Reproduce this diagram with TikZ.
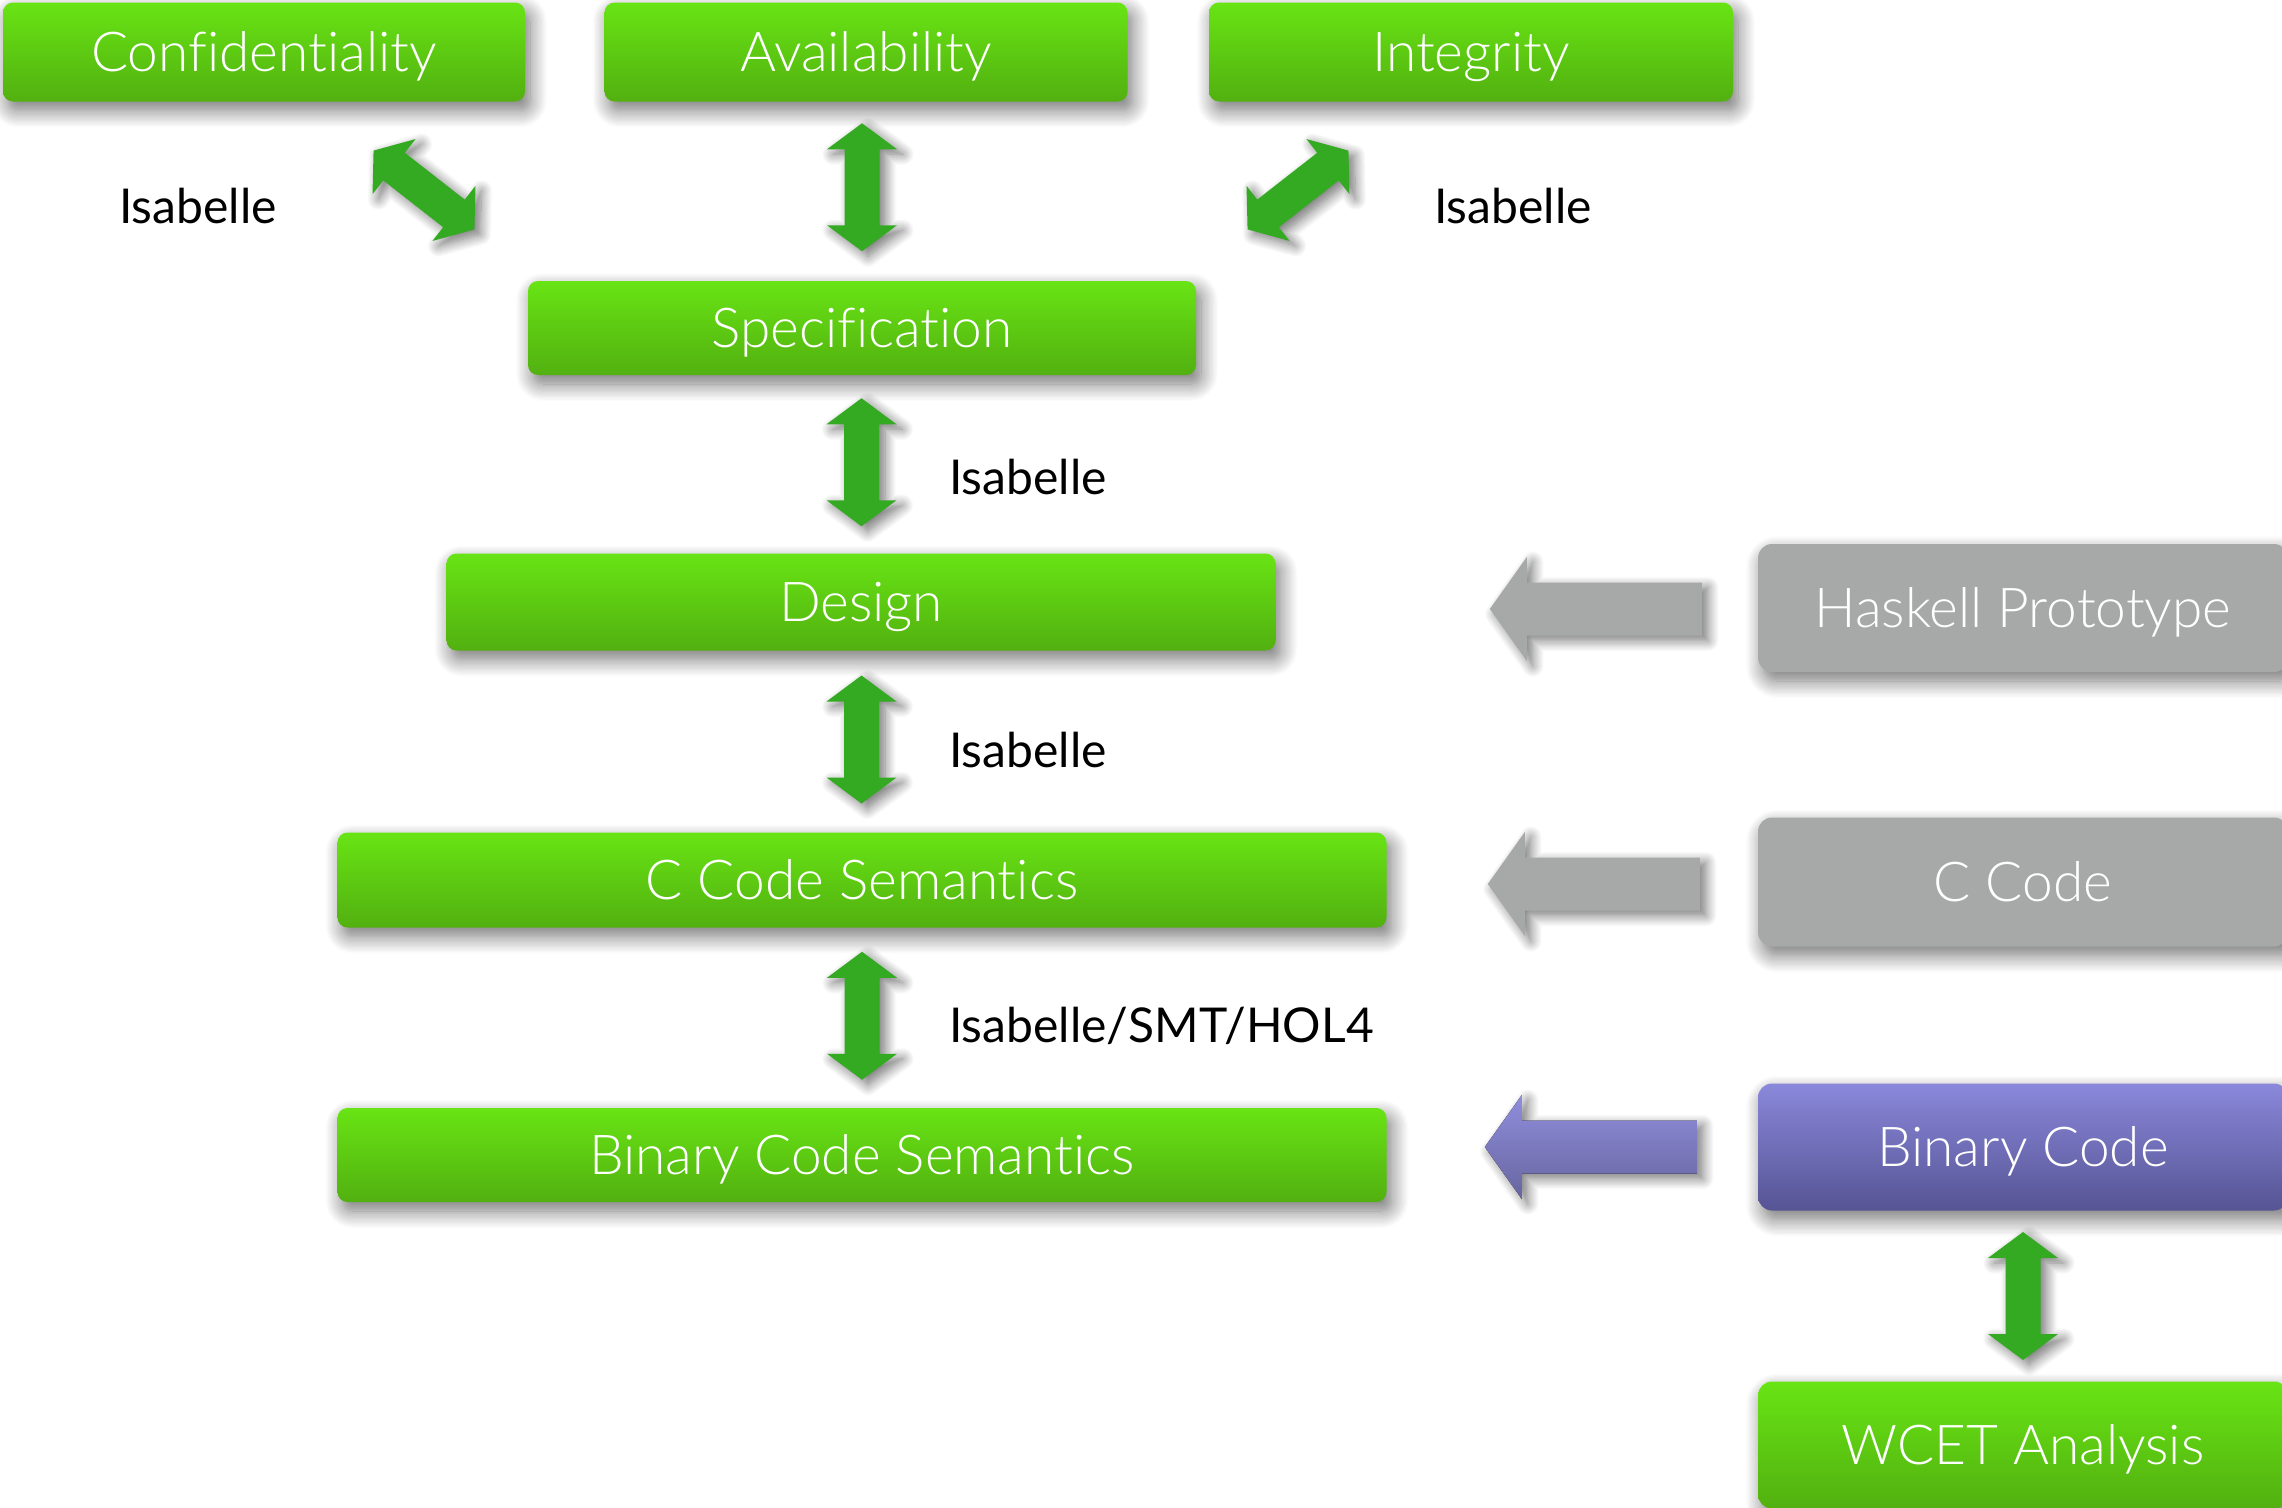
\documentclass[tikz,border=0pt]{standalone}
\usepackage{fontspec}
\setmainfont{Lato}
\newfontfamily\lightfont{Lato Light}[Ligatures=NoCommon]
\usetikzlibrary{calc,shadows.blur}

\definecolor{gtop}{RGB}{104,228,20}
\definecolor{gbot}{RGB}{82,176,16}
\definecolor{arrowgreen}{RGB}{52,170,34}
\definecolor{graybox}{RGB}{166,169,168}
\definecolor{ptop}{RGB}{138,136,218}
\definecolor{pbot}{RGB}{86,84,148}

\tikzset{
  softshadow/.style={blur shadow={shadow xshift=5pt, shadow yshift=-9pt,
      shadow blur radius=17pt, shadow blur steps=14, shadow opacity=55}},
  arrowshadow/.style={blur shadow={shadow xshift=6pt, shadow yshift=-5pt,
      shadow blur radius=11pt, shadow blur steps=12, shadow opacity=55}},
  box/.style={rounded corners=10pt, draw=none, text=white, inner sep=0pt,
      font=\lightfont\fontsize{55}{60}\selectfont,
      text height=39.4pt, text depth=0pt, softshadow},
  greenbox/.style={box, top color=gtop, bottom color=gbot},
  graybox/.style={box, fill=graybox, rounded corners=14pt},
  purplebox/.style={box, top color=ptop, bottom color=pbot, rounded corners=14pt},
  toolname/.style={anchor=base, text=black, inner sep=0pt,
      font=\fontsize{48}{54}\selectfont},
  % double-headed block arrow along the x axis
  dblarrow/.pic={
    \fill[arrowgreen, arrowshadow] (-64,0) -- (-38,35) -- (-38,17.5) -- (38,17.5)
      -- (38,35) -- (64,0) -- (38,-35) -- (38,-17.5) -- (-38,-17.5) -- (-38,-35) -- cycle;
  },
  % single block arrow pointing left, origin at its tip
  leftarrow/.pic={
    \fill[pic actions, arrowshadow] (0,0) -- (37,-52) -- (37,-26.5) -- (212,-26.5)
      -- (212,26.5) -- (37,26.5) -- (37,52) -- cycle;
  },
}

\begin{document}
\begin{tikzpicture}[x=1pt, y=-1pt]
\useasboundingbox (0,0) rectangle (2282,1507);

% top row: security properties
\node[greenbox, minimum width=522pt, minimum height=99pt] (conf)  at (264,52)  {Confidentiality};
\node[greenbox, minimum width=523pt, minimum height=99pt] (avail) at (866,52)  {Availability};
\node[greenbox, minimum width=524pt, minimum height=99pt] (integ) at (1471,52) {Integrity};

% refinement chain
\node[greenbox, minimum width=668pt,  minimum height=94pt] (spec)   at (862,328)  {Specification};
\node[greenbox, minimum width=829pt,  minimum height=97pt] (design) at (861,602)  {Design};
\node[greenbox, minimum width=1049pt, minimum height=95pt] (csem)   at (862,880)  {C Code Semantics};
\node[greenbox, minimum width=1049pt, minimum height=94pt] (bsem)   at (862,1155) {Binary Code Semantics};

% artefacts on the right
\node[graybox,   minimum width=530pt, minimum height=128pt] (hask)  at (2023,608)  {Haskell Prototype};
\node[graybox,   minimum width=530pt, minimum height=129pt] (ccode) at (2023,882)  {C Code};
\node[purplebox, minimum width=530pt, minimum height=127pt] (bin)   at (2023,1147) {Binary Code};
\node[greenbox,  minimum width=530pt, minimum height=127pt, rounded corners=14pt] (wcet) at (2023,1445) {WCET Analysis};

% proofs between levels
\pic[rotate=-38] at (424,190) {dblarrow};
\pic[rotate=38]  at (1298,190) {dblarrow};
\pic[rotate=90] at ($(spec.north)!0.5!(spec.north |- avail.south)+(0,-4)$) {dblarrow};
\pic[rotate=90] at ($(spec.south)!0.5!(design.north)+(0,-2)$) {dblarrow};
\pic[rotate=90] at ($(design.south)!0.5!(csem.north)+(0,-2)$) {dblarrow};
\pic[rotate=90] at ($(csem.south)!0.5!(bsem.north)+(0,-2)$) {dblarrow};
\pic[rotate=90] at ($(bin.south)!0.5!(wcet.north)$) {dblarrow};

% tool labels
\node[toolname] (l1) at (198,223)  {Isabelle};
\node[toolname] (l2) at (1513,223) {Isabelle};
\node[toolname, anchor=base west] (l3) at (949,494)  {Isabelle};
\node[toolname, anchor=base west] (l4) at (949,767)  {Isabelle};
\node[toolname, anchor=base west] (l5) at (949,1042) {Isabelle/SMT/HOL4};

% inputs from the artefacts
\pic[fill=graybox] at ($(hask.west)+(-268,1)$)  {leftarrow};
\pic[fill=graybox] at ($(ccode.west)+(-270,2)$) {leftarrow};
\pic[top color=ptop!95!white, bottom color=pbot!90!white] at ($(bin.west)+(-273,0)$) {leftarrow};
\end{tikzpicture}
\end{document}
